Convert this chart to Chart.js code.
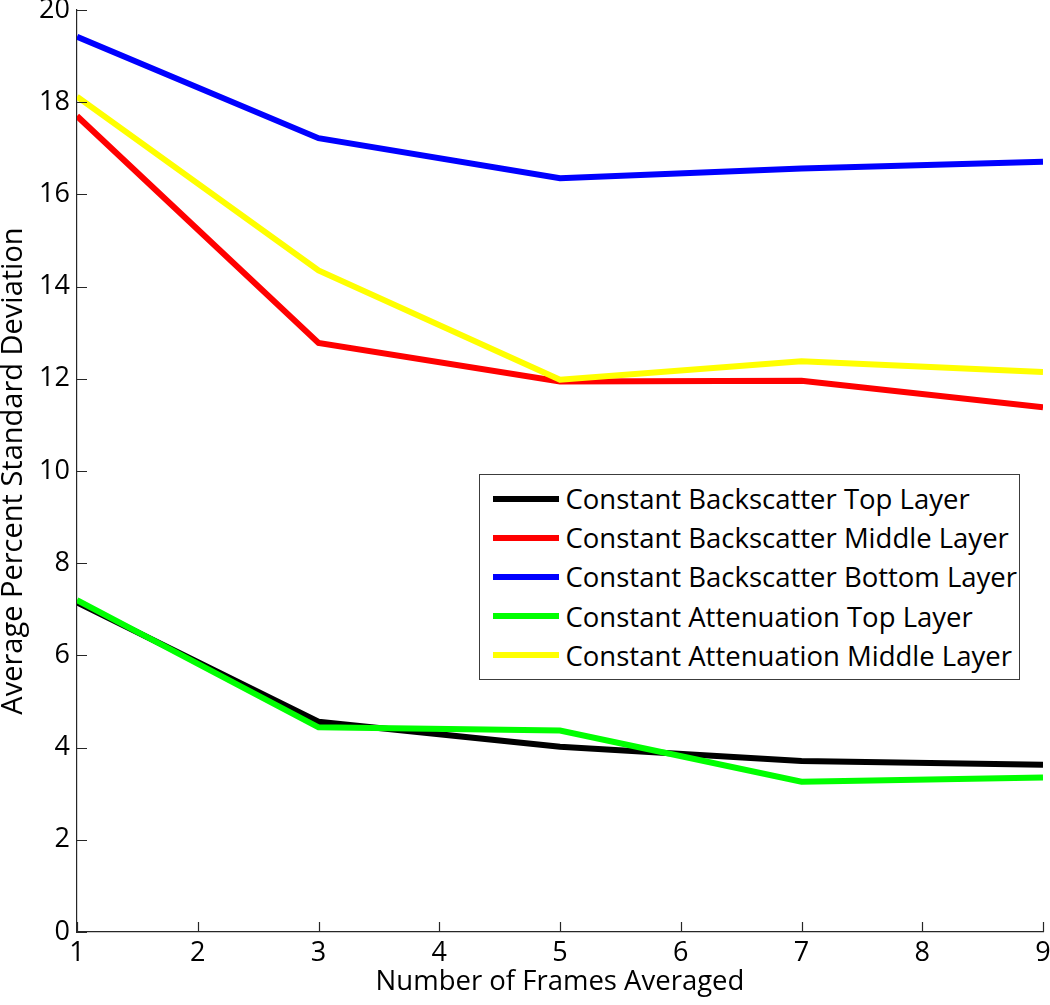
<!DOCTYPE html>
<html>
<head>
<meta charset="utf-8">
<script src="https://cdn.jsdelivr.net/npm/chart.js@4/dist/chart.umd.min.js"></script>
<style>
    html, body { margin: 0; padding: 0; background: #fff; }
    #wrap { position: relative; width: 1050px; height: 1005px; }
    #legend {
        position: absolute; left: 479px; top: 474px; width: 541px; height: 206px;
        border: 1.5px solid #3c3c3c; background: #fff; box-sizing: border-box;
        font-family: "Open Sans", sans-serif; font-size: 27.5px; color: #000;
        padding-top: 4px;
    }
    #legend .row { height: 39.2px; display: flex; align-items: center; white-space: nowrap; }
    #legend .swatch { width: 66px; height: 6px; margin-left: 12.5px; margin-right: 7px; flex: none; }
</style>
</head>
<body>
<div id="wrap">
    <canvas id="chart" width="1050" height="1005"></canvas>
    <div id="legend"></div>
</div>
<script>
// ==========================================================================================================
// -- Data --
// ==========================================================================================================

const frames = [1, 3, 5, 7, 9];
const xTicks = [1, 2, 3, 4, 5, 6, 7, 8, 9];
const yTicks = [0, 2, 4, 6, 8, 10, 12, 14, 16, 18, 20];

const seriesNames = [
    "Constant Backscatter Top Layer",
    "Constant Backscatter Middle Layer",
    "Constant Backscatter Bottom Layer",
    "Constant Attenuation Top Layer",
    "Constant Attenuation Middle Layer",
];
const seriesColors = ["#000000", "#ff0000", "#0000ff", "#00ff00", "#ffff00"];

const backscatterTop = [7.15, 4.56, 4.02, 3.71, 3.63];
const backscatterMiddle = [17.7, 12.78, 11.94, 11.96, 11.38];
const backscatterBottom = [19.42, 17.22, 16.35, 16.56, 16.71];
const attenuationTop = [7.2, 4.44, 4.37, 3.26, 3.35];
const attenuationMiddle = [18.12, 14.35, 11.98, 12.38, 12.15];

const seriesValues = [backscatterTop, backscatterMiddle, backscatterBottom, attenuationTop, attenuationMiddle];

const FONT = "'Open Sans', sans-serif";

// ==========================================================================================================
// -- Chart --
// ==========================================================================================================

// Inward tick marks, matlab style ---------------------------------------------------------------------
const inwardTicks = {
    id: "inwardTicks",
    afterDatasetsDraw(chart) {
        const { ctx, chartArea, scales } = chart;
        ctx.save();
        ctx.strokeStyle = "#262626";
        ctx.lineWidth = 1.2;
        ctx.beginPath();
        xTicks.forEach(v => {
            const px = Math.round(scales.x.getPixelForValue(v)) + 0.5;
            ctx.moveTo(px, chartArea.bottom);
            ctx.lineTo(px, chartArea.bottom - 10);
        });
        yTicks.forEach(v => {
            const py = Math.round(scales.y.getPixelForValue(v)) + 0.5;
            ctx.moveTo(chartArea.left, py);
            ctx.lineTo(chartArea.left + 10, py);
        });
        ctx.stroke();
        ctx.restore();
    }
};

const datasets = seriesNames.map((name, i) => ({
    label: name,
    data: frames.map((f, j) => ({ x: f, y: seriesValues[i][j] })),
    borderColor: seriesColors[i],
    backgroundColor: seriesColors[i],
    borderWidth: 6,
    pointRadius: 0,
    tension: 0,
    order: seriesNames.length - i, // later series drawn on top
}));

new Chart(document.getElementById("chart"), {
    type: "line",
    data: { datasets },
    options: {
        responsive: false,
        animation: false,
        layout: { padding: { top: 10, right: 7, left: 0, bottom: 0 } },
        plugins: { legend: { display: false }, tooltip: { enabled: false } },
        scales: {
            x: {
                type: "linear",
                min: 1, max: 9,
                afterBuildTicks: s => { s.ticks = xTicks.map(v => ({ value: v })); },
                afterFit: s => { s.height = 73; s.paddingLeft = 0; s.paddingRight = 0; },
                grid: { display: false, drawTicks: false },
                border: { color: "#262626", width: 1.2 },
                ticks: { color: "#000", font: { family: FONT, size: 27 }, padding: 5, maxRotation: 0 },
                title: { display: true, text: "Number of Frames Averaged", color: "#000",
                         font: { family: FONT, size: 27.5 }, padding: { top: 0, bottom: 6 } },
            },
            y: {
                min: 0, max: 20,
                afterBuildTicks: s => { s.ticks = yTicks.map(v => ({ value: v })); },
                afterFit: s => { s.width = 77; s.paddingTop = 0; s.paddingBottom = 0; },
                grid: { display: false, drawTicks: false },
                border: { color: "#262626", width: 1.2 },
                ticks: { color: "#000", font: { family: FONT, size: 27 }, padding: 7 },
                title: { display: true, text: "Average Percent Standard Deviation", color: "#000",
                         font: { family: FONT, size: 29 }, padding: { top: -4, bottom: 0 } },
            },
        },
    },
    plugins: [inwardTicks],
});

// Legend box (html) -----------------------------------------------------------------------------------
const legend = document.getElementById("legend");
seriesNames.forEach((name, i) => {
    const row = document.createElement("div");
    row.className = "row";
    const sw = document.createElement("div");
    sw.className = "swatch";
    sw.style.background = seriesColors[i];
    const label = document.createElement("span");
    label.textContent = name;
    row.appendChild(sw);
    row.appendChild(label);
    legend.appendChild(row);
});
</script>
</body>
</html>
